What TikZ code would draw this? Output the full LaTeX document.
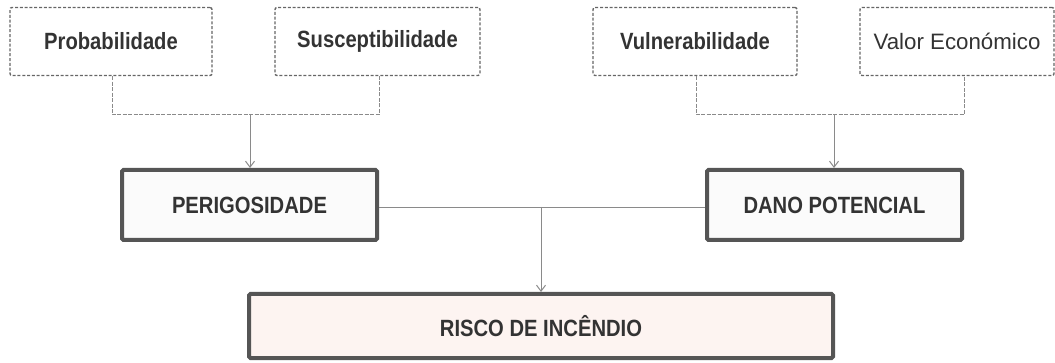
\documentclass[tikz,border=0pt]{standalone}
\usepackage{fontspec}
\setmainfont{Liberation Sans}
\newfontfamily\narrowsans{Liberation Sans}[FakeStretch=0.86]
\usetikzlibrary{arrows.meta}
\definecolor{txt}{HTML}{333333}
\definecolor{frame}{HTML}{555555}
\definecolor{dashc}{HTML}{666666}
\definecolor{conn}{HTML}{8A8A8A}
\definecolor{riscofill}{HTML}{FDF4F1}
\definecolor{midfill}{HTML}{FBFBFB}
\tikzset{
  topbox/.style={draw=dashc, line width=1.4pt, dash pattern=on 3pt off 1.8pt,
    rounded corners=2pt, minimum height=68pt, text=txt, inner sep=0pt},
  midbox/.style={draw=frame, line width=4pt, fill=midfill, rounded corners=1.5pt,
    minimum width=255pt, minimum height=70pt, text=txt, inner sep=0pt,
    font=\narrowsans\bfseries\fontsize{23.5}{26}\selectfont},
  riscobox/.style={midbox, fill=riscofill, minimum width=584pt, minimum height=64pt},
  boldlbl/.style={font=\narrowsans\bfseries\fontsize{23.5}{26}\selectfont},
  reglbl/.style={font=\fontsize{22.3}{24}\selectfont},
  bracket/.style={draw=conn, line width=1pt, dash pattern=on 4pt off 1.5pt},
  link/.style={draw=conn, line width=1pt, -{Straight Barb[length=6pt,width=9pt]}}
}
\begin{document}
\begin{tikzpicture}[x=1pt,y=-1pt]
\useasboundingbox (0,0) rectangle (1055,363);
% top boxes
\node[topbox, boldlbl, minimum width=202pt] (prob) at (111,41.5) {Probabilidade};
\node[topbox, boldlbl, minimum width=205pt] (susc) at (377.5,41.5) {Susceptibilidade};
\node[topbox, boldlbl, minimum width=204pt] (vuln) at (695,41.5) {Vulnerabilidade};
\node[topbox, reglbl, minimum width=194pt] (valor) at (957,41.5) {Valor Económico};
% middle boxes
\node[midbox] (perig) at (249.5,205) {PERIGOSIDADE};
\node[midbox] (dano) at (834.5,205) {DANO POTENCIAL};
% bottom box
\node[riscobox] (risco) at (541,326) {RISCO DE INCÊNDIO};
% brackets
\coordinate (bl) at (112,115);
\coordinate (br) at (379,115);
\coordinate (bm) at (250,115);
\coordinate (dl) at (696,115);
\coordinate (dr) at (964,115);
\coordinate (dm) at (834,115);
\draw[bracket] (prob.south -| bl) -- (bl) -- (br) -- (susc.south -| br);
\draw[bracket] (vuln.south -| dl) -- (dl) -- (dr) -- (valor.south -| dr);
\draw[link] (bm) -- (perig.north -| bm);
\draw[link] (dm) -- (dano.north -| dm);
% middle link
\coordinate (mm) at (541,207);
\draw[draw=conn, line width=0.9pt] (perig.east |- mm) -- (dano.west |- mm);
\draw[link] (mm) -- (risco.north -| mm);
\end{tikzpicture}
\end{document}
